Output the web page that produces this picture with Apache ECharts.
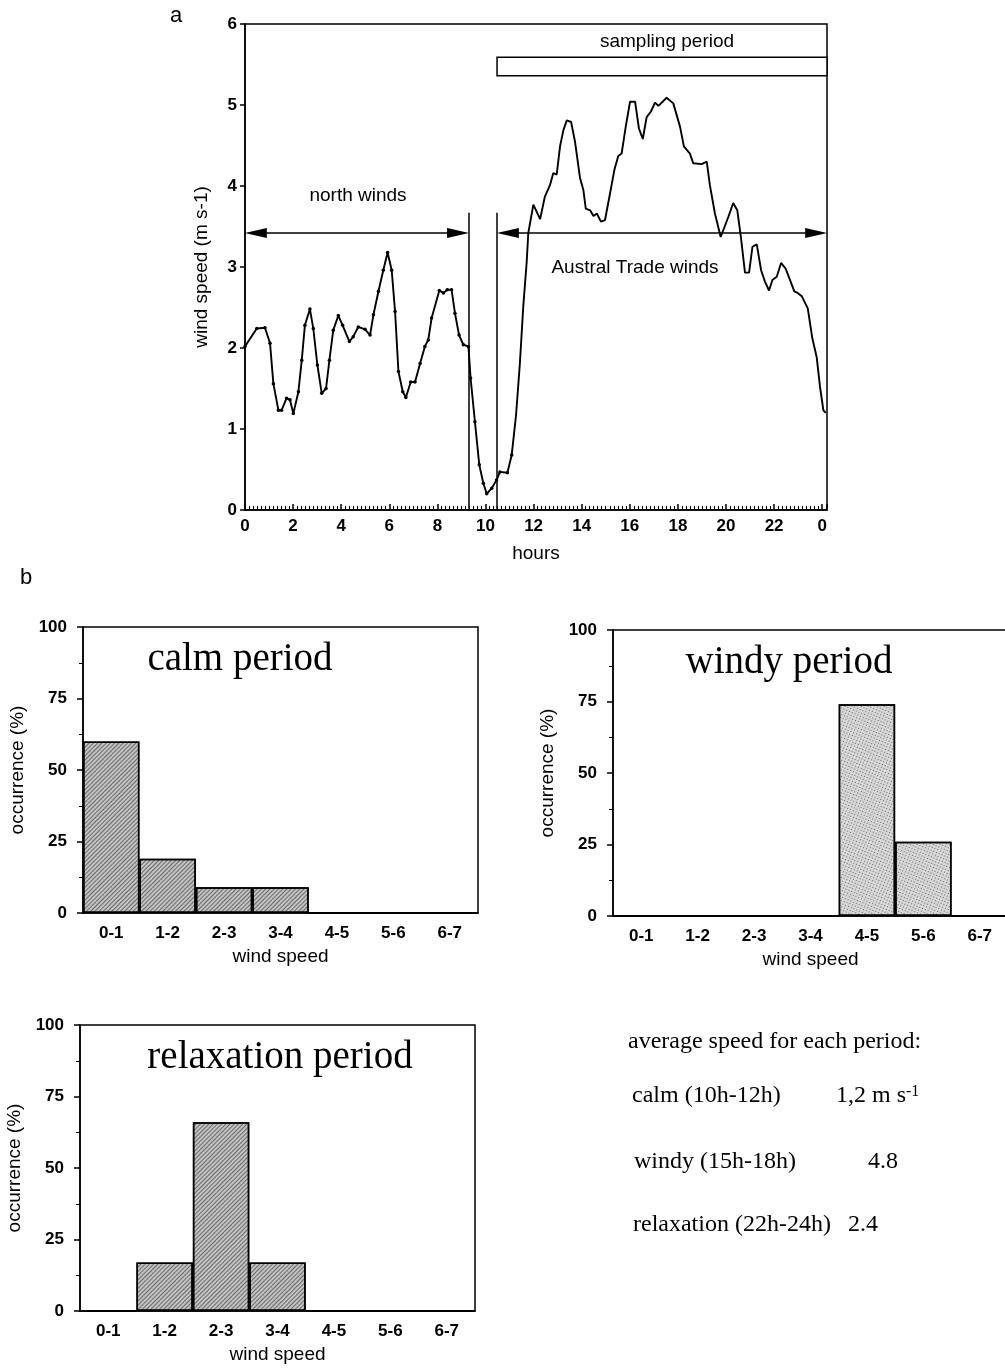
<!DOCTYPE html>
<html>
<head>
<meta charset="utf-8">
<script src="https://cdn.jsdelivr.net/npm/echarts@6/dist/echarts.min.js"></script>
<style>
  html, body { margin: 0; padding: 0; background: #fff; }
  #chart { width: 1005px; height: 1368px; }
</style>
</head>
<body>
<div id="chart"></div>
<script>
// panel a : wind speed through the day (hours, m s-1)
const hours = [
  0.00, 0.49, 0.83, 1.04, 1.18, 1.39, 1.52, 1.73, 1.87, 2.01, 2.22, 2.36, 2.49, 2.70, 2.84,
  3.01, 3.19, 3.37, 3.51, 3.67, 3.88, 4.06, 4.34, 4.50, 4.71, 4.99, 5.20, 5.34, 5.55, 5.75,
  5.93, 6.10, 6.24, 6.38, 6.56, 6.69, 6.89, 7.07, 7.28, 7.48, 7.62, 7.76, 8.08, 8.25, 8.41,
  8.59, 8.73, 8.90, 9.08, 9.29, 9.38, 9.56, 9.74, 9.91, 10.05, 10.26, 10.46, 10.60, 10.91, 11.09,
  11.27, 11.43, 11.57, 11.71, 11.78, 11.99, 12.13, 12.27, 12.47, 12.68, 12.82, 12.96, 13.10, 13.24, 13.38,
  13.56, 13.72, 13.93, 14.07, 14.17, 14.35, 14.49, 14.63, 14.80, 14.97, 15.18, 15.36, 15.52, 15.66, 15.83,
  16.01, 16.22, 16.38, 16.54, 16.70, 16.88, 17.05, 17.19, 17.53, 17.81, 18.09, 18.25, 18.50, 18.64, 18.99,
  19.20, 19.33, 19.54, 19.78, 20.10, 20.30, 20.47, 20.62, 20.79, 20.96, 21.10, 21.28, 21.46, 21.62, 21.79,
  21.93, 22.11, 22.29, 22.48, 22.66, 22.84, 22.98, 23.15, 23.40, 23.59, 23.77, 23.91, 24.05, 24.15
];
const speed = [
  2.02, 2.24, 2.25, 2.06, 1.56, 1.23, 1.23, 1.38, 1.36, 1.19, 1.46, 1.85, 2.28, 2.48, 2.24,
  1.79, 1.44, 1.50, 1.85, 2.22, 2.40, 2.28, 2.08, 2.14, 2.26, 2.23, 2.16, 2.41, 2.70, 2.96,
  3.18, 2.96, 2.45, 1.71, 1.46, 1.39, 1.58, 1.58, 1.81, 2.02, 2.10, 2.37, 2.71, 2.68, 2.72,
  2.72, 2.43, 2.16, 2.04, 2.02, 1.63, 1.09, 0.56, 0.33, 0.20, 0.27, 0.37, 0.47, 0.46, 0.68,
  1.17, 1.81, 2.51, 3.05, 3.42, 3.77, 3.68, 3.59, 3.87, 4.01, 4.16, 4.14, 4.49, 4.69, 4.81,
  4.79, 4.55, 4.10, 3.95, 3.72, 3.70, 3.63, 3.66, 3.56, 3.58, 3.91, 4.20, 4.37, 4.40, 4.73,
  5.04, 5.04, 4.71, 4.58, 4.85, 4.92, 5.03, 4.99, 5.09, 5.02, 4.73, 4.49, 4.40, 4.28, 4.27,
  4.30, 4.01, 3.66, 3.37, 3.62, 3.79, 3.70, 3.37, 2.93, 2.93, 3.25, 3.28, 2.96, 2.82, 2.71,
  2.84, 2.88, 3.05, 2.98, 2.84, 2.70, 2.68, 2.64, 2.49, 2.12, 1.89, 1.52, 1.23, 1.20
];
const hourMax = 24.2;
const northEnd = 9.31;     // end of north winds
const tradeStart = 10.48;  // start of trade winds / sampling
const arrowLevel = 3.42;
const dividerTop = 3.67;
const samplingBar = [5.36, 5.59];

// panel b : occurrence (%) per wind speed class
const speedClasses = ['0-1', '1-2', '2-3', '3-4', '4-5', '5-6', '6-7'];
const calm = [60, 19, 9, 9, 0, 0, 0];
const windy = [0, 0, 0, 0, 74, 26, 0];
const relaxation = [0, 17, 66, 17, 0, 0, 0];

const SANS = '"Liberation Sans", Arial, sans-serif';
const SERIF = '"Liberation Serif", "Times New Roman", serif';

const chart = echarts.init(document.getElementById('chart'));

const tickFont = { color: '#000', fontFamily: SANS, fontSize: 17, fontWeight: 'bold' };
const nameFont = { color: '#000', fontFamily: SANS, fontSize: 19 };
const blackLine = { color: '#000', width: 1.5 };

function histX(idx) {
  return {
    type: 'category', gridIndex: idx, data: speedClasses,
    name: 'wind speed', nameLocation: 'middle', nameGap: 34, nameTextStyle: nameFont,
    axisLine: { lineStyle: blackLine },
    axisTick: { length: 8, lineStyle: blackLine },
    axisLabel: Object.assign({ margin: 12 }, tickFont),
    splitLine: { show: false }
  };
}
function histY(idx) {
  return {
    type: 'value', gridIndex: idx, min: 0, max: 100, interval: 25,
    name: 'occurrence (%)', nameLocation: 'middle', nameGap: 56, nameRotate: 90, nameTextStyle: nameFont,
    axisLine: { show: true, lineStyle: blackLine },
    axisTick: { show: true, length: 6, lineStyle: blackLine },
    minorTick: { show: true, splitNumber: 2, length: 4, lineStyle: { color: '#000' } },
    axisLabel: Object.assign({ margin: 16 }, tickFont),
    splitLine: { show: false }
  };
}
const hatch = { symbol: 'rect', symbolSize: 1, dashArrayX: [1, 0], dashArrayY: [1, 2], rotation: -Math.PI / 4, color: 'rgba(0,0,0,0.45)' };
const stipple = { symbol: 'rect', symbolSize: 1, dashArrayX: [1, 2], dashArrayY: [1, 2], rotation: 0.4, color: 'rgba(0,0,0,0.5)' };
function histSeries(idx, values, fill, decal) {
  return {
    type: 'bar', xAxisIndex: idx, yAxisIndex: idx, data: values,
    barCategoryGap: '0%', silent: true,
    itemStyle: { color: fill, borderColor: '#000', borderWidth: 1.5, decal: decal }
  };
}

const arrowEnd = { symbol: 'triangle', symbolSize: [10, 22] };
const arrowShift = 0.45;

function label(text, x, y, font, align) {
  return {
    type: 'text', z: 100,
    style: { text: text, x: x, y: y, font: font, fill: '#000', textAlign: align || 'center', textVerticalAlign: 'middle' }
  };
}

const option = {
  animation: false,
  backgroundColor: '#fff',
  grid: [
    { left: 245, top: 24, width: 582, height: 486, show: true, borderColor: '#000', borderWidth: 1.5, outerBoundsMode: 'none' },
    { left: 83, top: 627, width: 395, height: 286, show: true, borderColor: '#000', borderWidth: 1.5, outerBoundsMode: 'none' },
    { left: 613, top: 630, width: 395, height: 286, show: true, borderColor: '#000', borderWidth: 1.5, outerBoundsMode: 'none' },
    { left: 80, top: 1025, width: 395, height: 286, show: true, borderColor: '#000', borderWidth: 1.5, outerBoundsMode: 'none' }
  ],
  xAxis: [
    {
      type: 'value', gridIndex: 0, min: 0, max: hourMax, interval: 2,
      name: 'hours', nameLocation: 'middle', nameGap: 34, nameTextStyle: nameFont,
      axisLine: { lineStyle: blackLine },
      axisTick: { inside: true, length: 6, lineStyle: blackLine },
      minorTick: { show: true, splitNumber: 12, length: 4, lineStyle: { color: '#000' } },
      axisLabel: Object.assign({ margin: 8, formatter: v => (v > 24.01 ? '' : String(v % 24)) }, tickFont),
      splitLine: { show: false }
    },
    histX(1), histX(2), histX(3)
  ],
  yAxis: [
    {
      type: 'value', gridIndex: 0, min: 0, max: 6, interval: 1,
      name: 'wind speed (m s-1)', nameLocation: 'middle', nameGap: 34, nameRotate: 90, nameTextStyle: nameFont,
      axisLine: { show: true, lineStyle: blackLine },
      axisTick: { show: true, length: 5, lineStyle: blackLine },
      axisLabel: Object.assign({ margin: 8 }, tickFont),
      splitLine: { show: false }
    },
    histY(1), histY(2), histY(3)
  ],
  series: [
    {
      type: 'line', xAxisIndex: 0, yAxisIndex: 0, silent: true,
      data: hours.map((h, i) => [h, speed[i]]),
      showAllSymbol: true,
      symbol: 'circle',
      symbolSize: v => (v[0] < 11.2 ? 3.5 : 0),
      itemStyle: { color: '#000' },
      lineStyle: { color: '#000', width: 1.9 },
      markArea: {
        silent: true,
        itemStyle: { color: '#fff', borderColor: '#000', borderWidth: 1.5 },
        label: { show: false },
        data: [[{ coord: [tradeStart, samplingBar[1]] }, { coord: [hourMax, samplingBar[0]] }]]
      },
      markLine: {
        silent: true, animation: false, symbol: 'none',
        label: { show: false },
        lineStyle: { color: '#000', width: 1.5, type: 'solid' },
        data: [
          [{ coord: [northEnd, 0] }, { coord: [northEnd, dividerTop] }],
          [{ coord: [tradeStart, 0] }, { coord: [tradeStart, dividerTop] }],
          [Object.assign({ coord: [arrowShift, arrowLevel] }, arrowEnd),
           Object.assign({ coord: [northEnd - arrowShift, arrowLevel] }, arrowEnd)],
          [Object.assign({ coord: [tradeStart + arrowShift, arrowLevel] }, arrowEnd),
           Object.assign({ coord: [hourMax - arrowShift, arrowLevel] }, arrowEnd)]
        ]
      }
    },
    histSeries(1, calm, '#c2c2c2', hatch),
    histSeries(2, windy, '#d6d6d6', stipple),
    histSeries(3, relaxation, '#c2c2c2', hatch)
  ],
  graphic: [
    label('a', 176, 16, '22px ' + SANS),
    label('b', 26, 578, '22px ' + SANS),
    label('sampling period', 667, 42, '19px ' + SANS),
    label('north winds', 358, 196, '19px ' + SANS),
    label('Austral Trade winds', 635, 268, '19px ' + SANS),
    label('calm period', 240, 660, '39px ' + SERIF),
    label('windy period', 789, 663, '39px ' + SERIF),
    label('relaxation period', 280, 1058, '39px ' + SERIF),
    label('average speed for each period:', 628, 1042, '24px ' + SERIF, 'left'),
    label('calm (10h-12h)', 632, 1096, '24px ' + SERIF, 'left'),
    {
      type: 'text', z: 100,
      style: {
        text: '1,2 m s{sup|-1}', x: 836, y: 1096, font: '24px ' + SERIF, fill: '#000', textAlign: 'left', textVerticalAlign: 'middle',
        rich: { sup: { fontFamily: SERIF, fontSize: 16, verticalAlign: 'top', fill: '#000' } }
      }
    },
    label('windy (15h-18h)', 634, 1162, '24px ' + SERIF, 'left'),
    label('4.8', 868, 1162, '24px ' + SERIF, 'left'),
    label('relaxation (22h-24h)', 633, 1225, '24px ' + SERIF, 'left'),
    label('2.4', 848, 1225, '24px ' + SERIF, 'left')
  ]
};

chart.setOption(option);
</script>
</body>
</html>
